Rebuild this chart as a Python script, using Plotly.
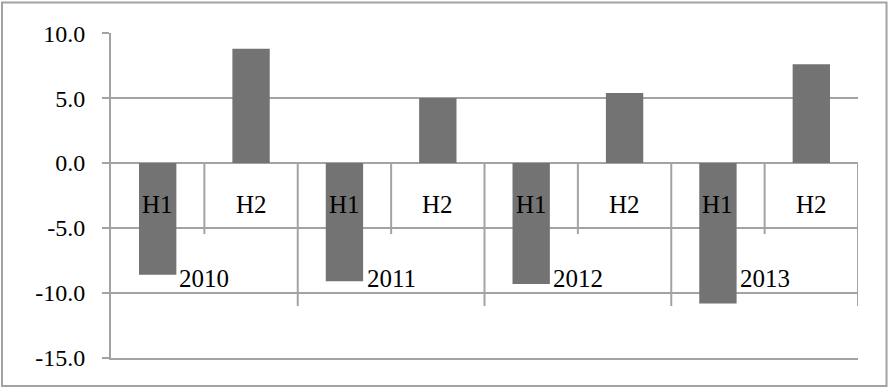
import plotly.graph_objects as go

# Half-year results grouped by year
years = ["2010", "2011", "2012", "2013"]
halves = ["H1", "H2"]
values = [-8.6, 8.8, -9.1, 5.0, -9.3, 5.4, -10.8, 7.6]

y_ticks = [10, 5, 0, -5, -10, -15]
y_tick_labels = [f"{v:.1f}" for v in y_ticks]

GRID = "#A3A3A3"
BAR = "#737373"
FONT = "Liberation Serif"

n_half = len(halves)
positions = list(range(len(values)))

fig = go.Figure(
    go.Bar(
        x=positions,
        y=values,
        width=0.4,
        marker=dict(color=BAR, line=dict(width=0)),
        hoverinfo="skip",
    )
)

shapes = []
annotations = []

# Inner category labels (H1 / H2) and the short dividers between halves
for i, _ in enumerate(values):
    annotations.append(dict(
        x=i, y=0, xref="x", yref="y",
        text=halves[i % n_half], showarrow=False,
        yanchor="middle", yshift=-41,
        font=dict(family=FONT, size=25, color="black"),
    ))
    if i % n_half != n_half - 1:
        shapes.append(dict(
            type="line", xref="x", yref="y", layer="between",
            x0=i + 0.5, x1=i + 0.5,
            ysizemode="pixel", yanchor=0, y0=0, y1=-71,
            line=dict(color=GRID, width=2),
        ))

# Outer category labels (years) and the long dividers between years
for g, yr in enumerate(years):
    center = g * n_half + (n_half - 1) / 2
    annotations.append(dict(
        x=center, y=0, xref="x", yref="y",
        text=yr, showarrow=False,
        yanchor="middle", yshift=-115,
        font=dict(family=FONT, size=25, color="black"),
    ))
    edge = (g + 1) * n_half - 0.5
    shapes.append(dict(
        type="line", xref="x", yref="y", layer="between",
        x0=edge, x1=edge,
        ysizemode="pixel", yanchor=0, y0=0, y1=-143,
        line=dict(color=GRID, width=2),
    ))

# Chart-area frame
shapes.append(dict(
    type="rect", xref="paper", yref="paper", layer="above",
    x0=-0.1459, x1=1.0382, y0=-0.0862, y1=1.0938,
    line=dict(color=GRID, width=2), fillcolor="rgba(0,0,0,0)",
))

fig.update_layout(
    width=888, height=388,
    margin=dict(l=111, r=30, t=33, b=30),
    paper_bgcolor="white", plot_bgcolor="white",
    showlegend=False,
    bargap=0.6,
    shapes=shapes,
    annotations=annotations,
    font=dict(family=FONT, size=24, color="black"),
)

# The bottom axis line doubles as the -15 gridline
fig.update_xaxes(
    range=[-0.5, len(values) - 0.5],
    showticklabels=False, showgrid=False, zeroline=False,
    showline=True, linecolor=GRID, linewidth=2,
    ticks="",
)

fig.update_yaxes(
    range=[-15, 10.01],
    tickvals=y_ticks,
    ticktext=y_tick_labels,
    showgrid=True, gridcolor=GRID, gridwidth=2,
    zeroline=False,
    showline=True, linecolor=GRID, linewidth=2,
    ticks="outside", ticklen=7, tickwidth=2, tickcolor=GRID,
    ticklabelstandoff=12,
    tickfont=dict(family=FONT, size=24, color="black"),
)

fig.write_html("out.html")
